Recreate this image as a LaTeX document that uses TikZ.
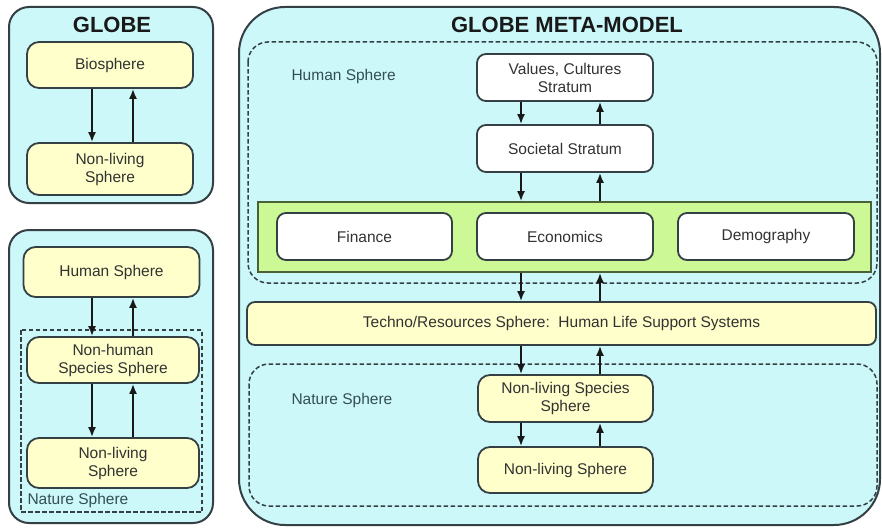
\documentclass[tikz,border=0pt]{standalone}
\usepackage{fontspec}
\setmainfont{Liberation Sans}
\usetikzlibrary{arrows.meta}

\definecolor{skyfill}{RGB}{204,248,250}
\definecolor{creamfill}{RGB}{255,255,204}
\definecolor{limefill}{RGB}{204,248,150}
\definecolor{edgegray}{RGB}{52,64,68}
\definecolor{limeedge}{RGB}{74,96,54}
\definecolor{inkgray}{RGB}{50,50,50}
\definecolor{labelteal}{RGB}{52,78,84}

\tikzset{
  panel/.style={draw=edgegray, line width=2pt, fill=skyfill},
  region/.style={draw=edgegray, line width=1.5pt, dash pattern=on 4.5pt off 2.5pt},
  sphere/.style={draw=edgegray, line width=1.8pt, fill=creamfill, rounded corners=12pt,
    minimum height=47pt, align=center, text=inkgray, font=\fontsize{15.5}{18}\selectfont},
  stratum/.style={sphere, fill=white, rounded corners=9pt},
  heading/.style={font=\fontsize{22}{24}\selectfont\bfseries, text=black!90},
  tag/.style={anchor=west, text=labelteal, font=\fontsize{15.5}{18}\selectfont},
  flow/.style={-{Latex[length=10pt,width=8pt]}, line width=1.7pt, draw=black!90}
}

\begin{document}
\begin{tikzpicture}[x=1pt,y=-1pt]
\useasboundingbox (0,0) rectangle (882,527);
\fill[white] (0,0) rectangle (882,527);

% GLOBE
\draw[panel, rounded corners=20pt] (9,7) rectangle (213,203);
\node[heading] (globe) at (112,25) {GLOBE};
\node[sphere, minimum width=166pt, minimum height=46pt] (bio) at (110,65) {Biosphere};
\node[sphere, minimum width=166pt, minimum height=52pt] (nonlive) at (110,169) {Non-living\\Sphere};
\coordinate (gdn) at (92,0);
\coordinate (gup) at (133,0);
\draw[flow] (bio.south -| gdn) -- (nonlive.north -| gdn);
\draw[flow] (nonlive.north -| gup) -- (bio.south -| gup);

% layered GLOBE
\draw[panel, rounded corners=20pt] (9,230) rectangle (213,523);
\draw[region] (21,330) rectangle (202,512);
\node[tag] (naturetag) at (24,500) {Nature Sphere};
\node[sphere, minimum width=176pt, minimum height=50pt] (human) at (111.5,272) {Human Sphere};
\node[sphere, minimum width=172pt, minimum height=46pt] (nonhuman) at (113,360) {Non-human\\Species Sphere};
\node[sphere, minimum width=172pt, minimum height=50pt] (nonlivetwo) at (113,463) {Non-living\\Sphere};
\draw[flow] (human.south -| gdn) -- (nonhuman.north -| gdn);
\draw[flow] (nonhuman.north -| gup) -- (human.south -| gup);
\draw[flow] (nonhuman.south -| gdn) -- (nonlivetwo.north -| gdn);
\draw[flow] (nonlivetwo.north -| gup) -- (nonhuman.south -| gup);

% GLOBE META-MODEL
\draw[panel, rounded corners=46pt] (239,7) rectangle (880,525);
\node[heading] (meta) at (567,25) {GLOBE META-MODEL};
\draw[region, rounded corners=20pt] (248,42) rectangle (877,283);
\node[tag] (humantag) at (288,76) {Human Sphere};
\draw[region, rounded corners=20pt] (249,364) rectangle (877,506);
\node[tag] (naturetagtwo) at (288,400) {Nature Sphere};

\node[stratum, minimum width=176pt] (values) at (565,77.5) {Values, Cultures\\Stratum};
\node[stratum, minimum width=176pt] (societal) at (565,148.5) {Societal Stratum};
\node[draw=limeedge, line width=1.8pt, fill=limefill, minimum width=613pt, minimum height=70pt] (core) at (564.5,237) {};
\node[stratum, minimum width=175pt] (finance) at (364.5,236.5) {Finance};
\node[stratum, minimum width=176pt] (economics) at (565,236.5) {Economics};
\node[stratum, minimum width=176pt] (demography) at (766,236.5) {Demography};
\node[sphere, minimum width=629pt, minimum height=43pt, rounded corners=8pt] (techno) at (561.5,323.5)
  {Techno/Resources Sphere:\ \ Human Life Support Systems};
\node[sphere, minimum width=175pt] (species) at (565.5,398.5) {Non-living Species\\Sphere};
\node[sphere, minimum width=175pt, minimum height=46pt] (nonlivethree) at (565.5,470) {Non-living Sphere};

\coordinate (mdn) at (521,0);
\coordinate (mup) at (600,0);
\foreach \upper/\lower in {values/societal, societal/core, core/techno, techno/species, species/nonlivethree}{
  \draw[flow] (\upper.south -| mdn) -- (\lower.north -| mdn);
  \draw[flow] (\lower.north -| mup) -- (\upper.south -| mup);
}
\end{tikzpicture}
\end{document}
